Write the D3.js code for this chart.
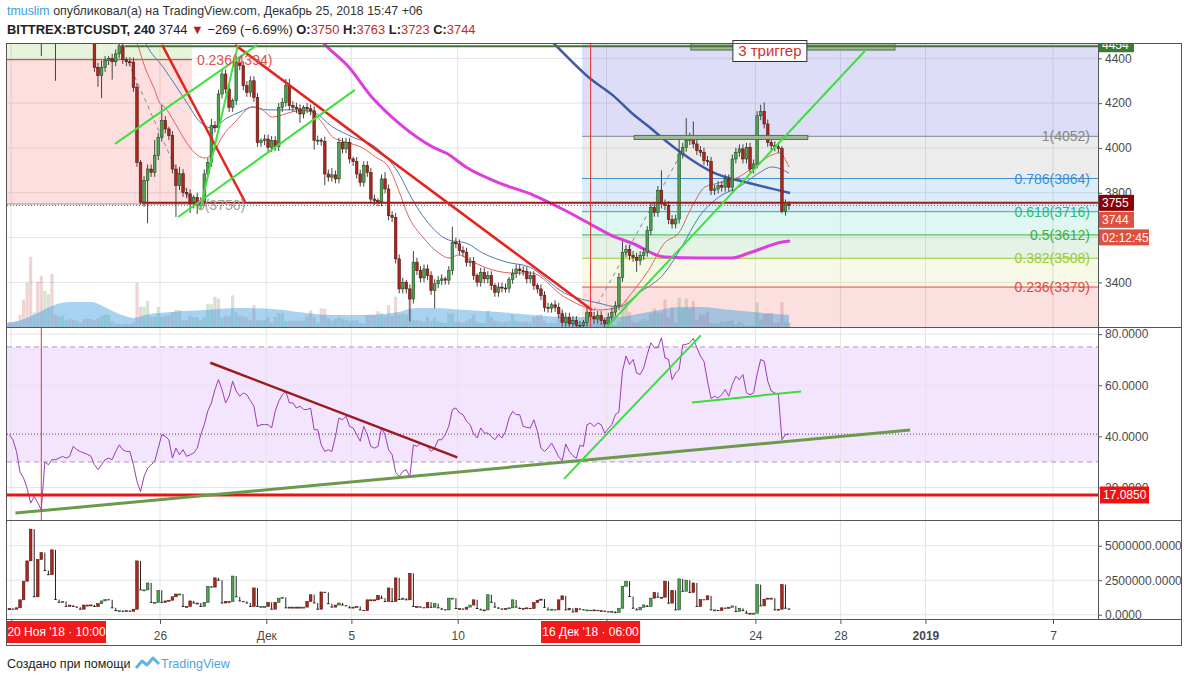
<!DOCTYPE html>
<html><head><meta charset="utf-8">
<script src="https://cdn.jsdelivr.net/npm/d3@7"></script>
<style>body{margin:0;background:#fff}svg{display:block}</style>
</head><body>
<svg id="c" width="1188" height="682"></svg>
<script>
// ---------------- DATA ----------------
// 4h candles, index k from -9 (18 Nov 22:00) to 211 (25 Dec 14:00); k=0 is 20 Nov 2018 10:00 (+06)
const kStart = -9;
const firstOpen = 5600;
const closes = [
5560,5530,5480,5200,4950,4880,4620,4700,4650,4560,
4620,4700,4600,4560,4620,4680,4720,4700,4650,4680,
4620,4600,4560,4520,4360,4323,4360,4390,4400,4385,
4420,4456,4395,4385,4383,4271,3936,3758,3854,3906,
3891,3966,4048,4122,4085,4055,3906,3832,3885,3802,
3795,3750,3780,3745,3760,3884,3936,4100,4090,4241,
4330,4263,4181,4211,4382,4367,4278,4248,4300,4226,
4025,4033,4040,4003,4033,4006,4181,4204,4278,4189,
4182,4175,4152,4181,4175,4166,4033,4035,4030,3884,
3870,3880,3862,4025,3996,4025,3951,3940,3884,3847,
3921,3891,3772,3765,3760,3862,3817,3698,3690,3505,
3371,3401,3371,3326,3490,3453,3420,3460,3430,3364,
3394,3408,3416,3410,3453,3579,3572,3542,3535,3490,
3493,3431,3401,3445,3416,3430,3386,3356,3379,3375,
3374,3414,3440,3460,3452,3450,3416,3430,3386,3371,
3341,3289,3285,3300,3289,3260,3222,3245,3215,3230,
3208,3208,3222,3267,3248,3237,3252,3230,3215,3245,
3267,3296,3422,3533,3548,3520,3512,3497,3520,3535,
3631,3735,3713,3810,3750,3743,3680,3661,3683,3973,
4003,4033,4048,4018,3988,3981,3944,3940,3810,3817,
3832,3825,3862,3825,3951,3981,3996,3951,4003,3906,
3929,4144,4163,4107,4025,4010,4005,3998,3718,3750,
3744];
// wick lengths in $10 units
const wickUp = [
3,2,3,5,4,3,6,4,3,3, 3,4,2,3,3,3,3,2,3,2, 2,1,2,2,2,2,3,2,1,2,
2,2,2,1,2,2,2,1,2,2, 2,7,2,7,2,1,2,2,3,2, 2,2,1,2,2,2,2,3,2,2,
2,2,2,1,3,2,2,2,2,2, 2,1,2,2,2,2,2,2,3,3, 2,2,2,1,2,2,2,2,1,2,
2,3,2,2,2,2,2,1,2,2, 2,2,2,2,1,2,3,2,2,2, 2,2,1,2,5,2,2,2,2,2,
2,2,2,1,2,7,2,2,2,2, 2,2,1,2,2,2,2,1,2,2, 2,1,2,2,2,2,2,2,2,1,
2,2,2,1,2,2,2,2,2,2, 2,2,1,2,2,2,2,2,1,2, 2,2,2,5,2,2,2,2,2,2,
2,2,2,2,9,2,2,2,2,8, 2,10,2,7,2,2,2,2,2,2, 2,2,2,2,2,2,2,2,2,2,
2,2,3,4,2,2,2,2,1,2, 1.3];
const wickDn = [
3,3,4,5,5,4,8,4,3,15, 3,3,4,26,3,3,3,2,3,2, 2,2,2,2,2,5,10,2,2,8,
2,2,2,2,2,2,2,1,2,19, 2,2,2,2,2,2,2,14,2,2, 2,4,2,4,2,2,2,2,2,2,
2,2,2,2,2,2,2,2,2,2, 2,2,2,2,2,2,2,2,2,2, 2,2,4,2,2,2,4,2,2,5,
2,2,2,2,2,2,2,2,2,2, 2,2,2,2,2,2,2,2,2,2, 2,2,2,10,2,2,2,2,2,2,
8,2,2,2,2,2,2,2,2,2, 2,2,2,2,2,2,2,2,2,2, 2,2,2,2,2,2,2,2,2,2,
2,2,2,2,2,2,2,2,2,2, 2,2,2,2,2,2,2,2,2,2, 2,2,2,2,2,2,2,5,2,2,
2,2,2,2,2,2,2,2,2,2, 2,2,2,2,2,2,2,2,2,2, 2,2,2,2,2,2,2,2,2,2,
2,2,2,2,2,2,2,2,1,2, 2.1];
// volume, millions
const volumesM = [
0.45,0.4,0.5,1.08,2.43,3.9,6.2,1.3,4.0,4.5,
3.2,2.9,4.7,1.1,0.9,0.96,0.6,0.7,0.6,0.55,
0.4,0.7,0.7,0.71,0.6,0.8,1.0,1.1,1.08,0.5,
0.3,0.3,0.25,0.3,0.25,0.4,3.9,1.8,1.8,2.3,
0.9,0.9,1.77,0.9,1.0,1.05,1.3,1.5,1.5,0.6,
0.6,1.0,0.85,0.85,0.6,0.9,2.06,2.0,2.67,2.5,
0.85,0.95,0.95,2.8,1.3,1.0,0.95,0.85,0.6,1.94,
0.6,0.6,0.6,0.9,0.4,0.9,1.2,1.25,0.5,0.55,
0.55,0.55,0.55,0.55,0.96,1.45,0.85,0.4,1.65,1.62,
0.8,0.55,0.7,0.85,0.7,0.64,0.5,0.55,0.6,0.35,
0.3,1.08,1.08,1.08,1.4,1.2,0.96,1.94,0.96,2.67,
1.1,1.2,1.08,3.0,0.6,0.6,0.55,0.5,0.9,0.54,
0.8,0.5,0.4,0.35,1.2,1.2,0.45,0.45,0.4,0.55,
0.7,1.08,0.45,0.35,0.35,1.45,0.9,0.55,0.47,0.4,
0.45,0.5,1.08,0.55,0.45,0.47,0.5,0.45,0.88,1.05,
1.13,0.54,0.35,0.4,0.35,1.08,1.37,0.35,0.47,0.2,
0.47,0.4,0.35,0.35,0.3,0.35,0.3,0.3,0.25,0.2,
0.25,0.15,0.47,2.06,2.43,1.32,0.47,0.35,0.54,0.71,
0.6,1.2,1.62,1.27,1.27,2.43,0.84,1.77,0.35,2.6,
1.7,2.5,1.62,2.3,0.6,1.1,1.08,1.37,0.35,0.35,
0.3,0.5,0.47,0.54,0.64,0.23,0.47,0.3,0.11,0.11,
0.11,2.18,0.64,1.13,1.2,1.2,0.35,0.4,2.18,0.47,
0.4];
const rsiValues = [
40.7,38.7,34.1,26,23.7,19.7,13.9,16.5,14,11.3,
30,28.9,30.9,30.9,31.5,32.2,31.5,32.2,36.1,34.8,
34.1,33.5,33,32.2,28.9,27,28.9,30.9,31.5,30.9,
34.1,36.7,34.8,34.1,34.1,28.9,22.4,18.4,24.3,27.6,
28.9,30.2,35.4,40.7,40,38.7,31.5,35.4,32.8,34.8,
32.2,32.8,33.5,35.4,40.7,44.6,50,53.1,58.3,62.2,
58.3,53.1,55.7,61.6,57.7,55.7,57,56.3,54,51.8,
43.9,44.6,44.6,44.6,43.3,49.8,53.7,56.3,57.7,53.1,
53.1,51.1,51.8,50.5,50.5,51.1,42.6,42.6,36.7,34.1,
34.8,34.1,40,47.2,46.5,47.9,43.9,43.3,40.7,38.1,
43.9,40.7,36.1,35.4,36.1,43.3,40.7,34.8,32.8,26,
24.3,26.3,27,24.3,36.7,36.1,37.4,36.5,36.1,34.1,
35.4,38.7,38.7,40.7,44,50.5,51.1,49.2,48.5,45.9,
44.6,41,39.4,43.3,41.3,41.3,40,38.7,40.7,39.4,
42,47.2,49.8,48.5,48.5,43.9,43.5,43.3,46.5,42,
35.4,34.1,35.5,37.4,34.8,32,30.5,37,34.1,32.5,
31.5,36.5,36.1,44.6,45.2,43.9,45.2,44.6,41.3,43,
44.6,48.5,49.5,65.5,71.4,68.1,70.1,64.8,64.2,66.8,
72,76.6,74.7,74.7,78.6,70.7,70.1,62.2,64.8,66.2,
75.8,76,76.6,78.3,74.7,71.4,69.4,61.6,54.8,55.7,
55,56.3,58.3,55.7,60.3,63.5,62.2,64.2,57,56.3,
57,64.2,70.1,69.4,61.6,57.7,57,56.3,38.7,40.7,
40.9];
// moving averages read as [candle index, value]
const maFastRed = [[25,4540],[27.2,4460],[29.2,4362],[32,4259],[33.4,4201],[34.8,4183],[37.7,4112],[40.5,4036],[43.3,3978],[46.2,3955],[49,3991],[51,4049],[54.7,4116],[59.5,4183],[62.3,4170],[65.2,4138],[70.8,4161],[75.4,4170],[79.3,4112],[82.2,4049],[85.8,4027],[90.7,4000],[94.3,3960],[98,3915],[100.8,3813],[103.7,3692],[107.6,3603],[112.2,3531],[115,3509],[117.8,3522],[121.8,3491],[127.5,3455],[133.1,3442],[138.2,3442],[147.6,3335],[157.2,3277],[162.9,3290],[166.6,3353],[171.4,3455],[175.9,3576],[179.9,3621],[183.6,3737],[187.3,3826],[191.2,3844],[196.9,3871],[202.5,3933],[206.2,3969],[208.2,3978],[211,3915]];
const maFastBlue = [[27,4560],[29.7,4460],[34.3,4362],[38.2,4272],[41.1,4201],[44.8,4116],[48.2,4089],[52.4,4134],[56.1,4161],[59.8,4183],[63.7,4170],[70.8,4170],[76.5,4161],[82.2,4094],[87.8,4049],[94.3,4004],[100.8,3888],[104.8,3768],[108.5,3679],[115,3589],[119.8,3576],[124.6,3531],[131.2,3491],[137.7,3469],[147.6,3353],[157.2,3308],[162.9,3290],[168.6,3353],[175.9,3442],[180.7,3558],[185.6,3692],[191.2,3781],[196.9,3826],[202.5,3888],[206.2,3915],[211,3888]];
const maSlowBlue = [[135,4620],[144.8,4464],[154.7,4312],[161.8,4228],[166.6,4156],[171.4,4096],[175.9,4036],[180.7,3978],[190,3888],[199.7,3844],[211.3,3799]];
const ma200 = [[75,4560],[79.6,4469],[86.7,4362],[93.5,4223],[100.8,4112],[110.5,4004],[114.5,3975],[119.8,3915],[129.2,3844],[138.8,3790],[147.6,3723],[154.4,3665],[161.8,3603],[166.6,3576],[175.9,3513],[185.6,3509],[194.9,3509],[199.7,3531],[209.1,3580],[211.3,3585]];
const volMA = [[-9.9,0.35],[-5.7,0.62],[-1.1,1.24],[3.7,1.95],[8.5,2.2],[14.2,2.2],[17.8,1.77],[22.7,1.06],[26.3,0.8],[29.2,1.06],[36.8,1.33],[46.2,1.5],[55.5,1.68],[65.2,1.6],[72.5,1.33],[82.2,1.06],[91.5,1.06],[100.8,1.33],[105.7,1.68],[110.5,1.68],[119.8,1.5],[129.2,1.33],[138.8,1.06],[147.6,0.88],[155.2,0.88],[161.8,0.88],[171.4,1.33],[180.7,1.77],[185.6,1.77],[194.9,1.5],[204.2,1.24],[211,1.06]];
// fibonacci retracements
const fibLevelsRight = [0,0.236,0.382,0.5,0.618,0.786,1,1.618];
const fibRightRange = [3171.5,4052];
const fibRightStartK = 152.6;
const fibLevelsLeft = [0,0.236,0.382];
const fibLeftRange = [3750,6479];
const fibLeftK = [-9.7,42.5];
// drawings [k1, v1, k2, v2]
const redTrendLines = [[34.1,4460,57.5,3759],[54.7,4460,155.4,3277]];
const greenTrendLines = [[20.8,4018,60.9,4460],[38.6,3692,88.5,4259],[44.8,3723,55.5,4460],[159.6,3201,232.4,4433]];
const grayDashedLines = [[24.5,4384,41.9,3768],[154.8,3241,181.1,3991]];
const zoneRects = [[183.3,4437,240.9,4500],[167.3,4038,216.3,4056]];
const level4454 = {k:23.6, price:4454};
const level3755 = {k:28.4, price:3755};
const triggerLabel = {k:205.6, price:4435, text:'3 триггер'};
const verticalPriceK = 155;
const verticalRsiK = 0;
const rsiOliveLine = [-7.3,10,245.2,42.5];
const rsiDarkRedLine = [47.7,68.8,117.4,31.8];
const rsiGreenLines = [[147.5,23.4,186.1,79.5],[183.6,53.3,214.4,57.6]];
const rsiLevel = 17.085;
const rsiBands = [30,75];
// axes
const priceTicks = [3400,3600,3800,4000,4200,4400];
const rsiTicks = [20,40,60,80];
const volTicks = [0,2.5,5];
const timeTicks = [[2018,10,19],[2018,10,26],[2018,11,1],[2018,11,5],[2018,11,10],[2018,11,17],[2018,11,24],[2018,11,28],[2019,0,1],[2019,0,7]];
const monthsRu = ['Янв','Фев','Мар','Апр','Май','Июн','Июл','Авг','Сен','Окт','Ноя','Дек'];
const countdown = '02:12:45';

// ---------------- SETUP ----------------
const svg = d3.select('#c');
const FONT = "'Liberation Sans', Arial, sans-serif";
const L = 7, R = 1098;
const H4 = 4*3600*1000;
const base = Date.UTC(2018,10,20,10,0);
const dateOf = k => new Date(base + k*H4);
const x = d3.scaleUtc().domain([new Date(Date.UTC(2018,10,18,19,17)), new Date(Date.UTC(2019,0,9,2,47))]).range([L,R]);
const xk = k => x(dateOf(k));
const yP = d3.scaleLinear().domain([3201,4464]).range([327,44]);
const yR = d3.scaleLinear().domain([7.3,82.4]).range([520,328]);
const yV = d3.scaleLinear().domain([-0.31,6.79]).range([619,521]);
const yVO = d3.scaleLinear().domain([0,25]).range([327,44]);

const candles = closes.map((c,i)=>{
  const o = i===0 ? firstOpen : closes[i-1];
  return {k:kStart+i, o, c, h:Math.max(o,c)+wickUp[i]*10, l:Math.min(o,c)-wickDn[i]*10,
          v:volumesM[i], pv: i===0 ? volumesM[0]*0.8 : volumesM[i-1], rsi:rsiValues[i]};
});

const defs = svg.append('defs');
function clip(id,y0,y1){defs.append('clipPath').attr('id',id).append('rect').attr('x',L).attr('y',y0).attr('width',R-L).attr('height',y1-y0);}
clip('cp',44,327); clip('cr',328,520); clip('cv',521,619.5);
defs.append('clipPath').attr('id','ctop').append('rect').attr('x',0).attr('y',44).attr('width',1188).attr('height',600);

svg.append('rect').attr('width',1188).attr('height',682).attr('fill','#fff');

// ---------------- HEADER ----------------
const h1 = svg.append('text').attr('x',7).attr('y',15).attr('font-family',FONT).attr('font-size',12.4).attr('fill','#333');
h1.append('tspan').attr('fill','#3c9be0').text('tmuslim');
h1.append('tspan').text(' опубликовал(а) на TradingView.com, Декабрь 25, 2018 15:47 +06');
const last = candles[candles.length-1];
const h2 = svg.append('text').attr('x',7).attr('y',34).attr('font-family',FONT).attr('font-size',12.9).attr('fill','#222');
h2.append('tspan').attr('font-weight','bold').text('BITTREX:BTCUSDT, 240');
h2.append('tspan').text('  ' + last.c + ' ');
h2.append('tspan').attr('fill','#b71c1c').text('▼');
h2.append('tspan').text(' −269 (−6.69%) ');
[['O:',3750],['H:',3763],['L:',3723],['C:',last.c]].forEach(([lab,v])=>{
  h2.append('tspan').attr('font-weight','bold').text(' '+lab);
  h2.append('tspan').attr('fill','#c62828').text(v);
});

// ---------------- PRICE PANE ----------------
const gP = svg.append('g').attr('clip-path','url(#cp)');
const gridC = '#e4e4e4';
const tickDates = timeTicks.map(t=>new Date(Date.UTC(t[0],t[1],t[2])));
function vgrid(g,y0,y1){g.selectAll(null).data(tickDates).enter().append('line').attr('x1',d=>x(d)).attr('x2',d=>x(d)).attr('y1',y0).attr('y2',y1).attr('stroke',gridC);}
vgrid(gP,44,327);
gP.selectAll(null).data(priceTicks).enter().append('line').attr('x1',L).attr('x2',R).attr('y1',d=>yP(d)).attr('y2',d=>yP(d)).attr('stroke',gridC);

// fib fills
const fibFillR = ['#ef5350','#c0ca33','#4caf50','#26c6a0','#3d9be0','#9e9e9e','#6464dc'];
const fibOpR = [0.18,0.13,0.15,0.15,0.18,0.2,0.22];
const fibLineR = ['#808080','#e04848','#9acd32','#3cb043','#2ab87f','#3a8fd8','#888888','#5c5ccc'];
const fv = (r,l)=> r[0] + (r[1]-r[0])*l;
for(let i=0;i<fibLevelsRight.length-1;i++){
  const a = yP(fv(fibRightRange,fibLevelsRight[i])), b = yP(fv(fibRightRange,fibLevelsRight[i+1]));
  gP.append('rect').attr('x',xk(fibRightStartK)).attr('y',b).attr('width',R-xk(fibRightStartK)).attr('height',a-b).attr('fill',fibFillR[i]).attr('opacity',fibOpR[i]);
}
const fibFillL = ['#ef5350','#8bc34a'];
const fibOpL = [0.19,0.2];
for(let i=0;i<fibLevelsLeft.length-1;i++){
  const a = yP(fv(fibLeftRange,fibLevelsLeft[i])), b = yP(fv(fibLeftRange,fibLevelsLeft[i+1]));
  gP.append('rect').attr('x',xk(fibLeftK[0])).attr('y',b).attr('width',xk(fibLeftK[1])-xk(fibLeftK[0])).attr('height',a-b).attr('fill',fibFillL[i]).attr('opacity',fibOpL[i]);
}

// volume overlay
gP.selectAll(null).data(candles).enter().append('rect')
  .attr('x',d=>xk(d.k)-1.6).attr('width',3.2).attr('y',d=>yVO(d.v)).attr('height',d=>yVO(0)-yVO(d.v))
  .attr('fill',d=>d.c>=d.o?'#6aa86a':'#c97070').attr('opacity',0.3);
gP.append('path').datum(volMA).attr('d',d3.area().x(d=>xk(d[0])).y0(yVO(0)).y1(d=>yVO(d[1])).curve(d3.curveMonotoneX))
  .attr('fill','#3b9de0').attr('opacity',0.45);

// fib lines
fibLevelsRight.forEach((l,i)=>{
  const y = yP(fv(fibRightRange,l));
  gP.append('line').attr('x1',xk(fibRightStartK)).attr('x2',R).attr('y1',y).attr('y2',y).attr('stroke',fibLineR[i]).attr('stroke-width',1);
});
gP.append('line').attr('x1',L).attr('x2',xk(fibLeftK[1])).attr('y1',yP(fv(fibLeftRange,0.236))).attr('y2',yP(fv(fibLeftRange,0.236))).attr('stroke','#cc3333');
gP.append('line').attr('x1',L).attr('x2',xk(fibLeftK[1])).attr('y1',yP(fibLeftRange[0])).attr('y2',yP(fibLeftRange[0])).attr('stroke','#999');

// moving averages
const maLine = d3.line().x(d=>xk(d[0])).y(d=>yP(d[1])).curve(d3.curveMonotoneX);
gP.append('path').datum(ma200).attr('d',maLine).attr('fill','none').attr('stroke','#dd3ddd').attr('stroke-width',3);
gP.append('path').datum(maSlowBlue).attr('d',maLine).attr('fill','none').attr('stroke','#3c5aa6').attr('stroke-width',2.5);
gP.append('path').datum(maFastBlue).attr('d',maLine).attr('fill','none').attr('stroke','#4f79b0').attr('stroke-width',1);
gP.append('path').datum(maFastRed).attr('d',maLine).attr('fill','none').attr('stroke','#e06262').attr('stroke-width',1);

// gray dashed projection lines
grayDashedLines.forEach(s=>gP.append('line').attr('x1',xk(s[0])).attr('y1',yP(s[1])).attr('x2',xk(s[2])).attr('y2',yP(s[3])).attr('stroke','#8a8a8a').attr('stroke-dasharray','4,4'));

// candles
const cg = gP.append('g');
cg.selectAll(null).data(candles).enter().append('line')
  .attr('x1',d=>xk(d.k)).attr('x2',d=>xk(d.k)).attr('y1',d=>yP(d.h)).attr('y2',d=>yP(d.l)).attr('stroke','#444').attr('stroke-width',1);
cg.selectAll(null).data(candles).enter().append('rect')
  .attr('x',d=>xk(d.k)-1.3).attr('width',2.6)
  .attr('y',d=>yP(Math.max(d.o,d.c))).attr('height',d=>Math.max(1,yP(Math.min(d.o,d.c))-yP(Math.max(d.o,d.c))))
  .attr('fill',d=>d.c>=d.o?'#4da352':'#a8281f').attr('stroke',d=>d.c>=d.o?'#1f4d22':'#5a140f').attr('stroke-width',0.6);

// zone rects and levels
zoneRects.forEach(r=>gP.append('rect').attr('x',xk(r[0])).attr('y',yP(r[3])).attr('width',xk(r[2])-xk(r[0])).attr('height',yP(r[1])-yP(r[3]))
  .attr('fill','#9dbb93').attr('stroke','#55704e').attr('stroke-width',1));
gP.append('line').attr('x1',xk(level4454.k)).attr('x2',R).attr('y1',yP(level4454.price)).attr('y2',yP(level4454.price)).attr('stroke','#46703c').attr('stroke-width',2);
gP.append('line').attr('x1',L).attr('x2',R).attr('y1',yP(last.c)).attr('y2',yP(last.c)).attr('stroke','#c0392b').attr('stroke-dasharray','1,2');
gP.append('line').attr('x1',xk(level3755.k)).attr('x2',R).attr('y1',yP(level3755.price)).attr('y2',yP(level3755.price)).attr('stroke','#9b1c1c').attr('stroke-width',2);

// trend lines
redTrendLines.forEach(s=>gP.append('line').attr('x1',xk(s[0])).attr('y1',yP(s[1])).attr('x2',xk(s[2])).attr('y2',yP(s[3])).attr('stroke','#e6241e').attr('stroke-width',2.5));
greenTrendLines.forEach(s=>gP.append('line').attr('x1',xk(s[0])).attr('y1',yP(s[1])).attr('x2',xk(s[2])).attr('y2',yP(s[3])).attr('stroke','#3ee03e').attr('stroke-width',2));
gP.append('line').attr('x1',xk(verticalPriceK)).attr('x2',xk(verticalPriceK)).attr('y1',44).attr('y2',327).attr('stroke','#e53935').attr('stroke-width',1);

// fib labels
fibLevelsRight.forEach((l,i)=>{
  const v = fv(fibRightRange,l);
  if (yP(v) < 50 || yP(v) > 325) return;
  gP.append('text').attr('x',R-8).attr('y',yP(v)+5).attr('text-anchor','end').attr('font-family',FONT).attr('font-size',14)
    .attr('fill',fibLineR[i]).text(l+'('+Math.round(v)+')');
});
svg.append('text').attr('x',xk(fibLeftK[1])+5).attr('y',yP(fv(fibLeftRange,0.236))+5).attr('font-family',FONT).attr('font-size',14).attr('fill','#e05050')
  .text('0.236('+Math.round(fv(fibLeftRange,0.236))+')');
svg.append('text').attr('x',xk(fibLeftK[1])+5).attr('y',yP(fibLeftRange[0])+6).attr('font-family',FONT).attr('font-size',14).attr('fill','#a0a0a0')
  .text('0('+fibLeftRange[0]+')');

// trigger label
const tx = xk(triggerLabel.k), ty = yP(triggerLabel.price);
svg.append('rect').attr('x',tx-37).attr('y',ty-10).attr('width',74).attr('height',21).attr('fill','#fff').attr('stroke','#333');
svg.append('text').attr('x',tx).attr('y',ty+5.5).attr('text-anchor','middle').attr('font-family',FONT).attr('font-size',15).attr('fill','#d32f2f').text(triggerLabel.text);

// ---------------- RSI PANE ----------------
const gR = svg.append('g').attr('clip-path','url(#cr)');
gR.append('rect').attr('x',L).attr('width',R-L).attr('y',yR(rsiBands[1])).attr('height',yR(rsiBands[0])-yR(rsiBands[1])).attr('fill','#c77dff').attr('opacity',0.2);
vgrid(gR,328,520);
gR.selectAll(null).data(rsiTicks).enter().append('line').attr('x1',L).attr('x2',R).attr('y1',d=>yR(d)).attr('y2',d=>yR(d)).attr('stroke',gridC);
rsiBands.forEach(b=>gR.append('line').attr('x1',L).attr('x2',R).attr('y1',yR(b)).attr('y2',yR(b)).attr('stroke','#ab9bb4').attr('stroke-dasharray','5,4'));
gR.append('path').datum(candles).attr('d',d3.line().x(d=>xk(d.k)).y(d=>yR(d.rsi))).attr('fill','none').attr('stroke','#9b3cb7').attr('stroke-width',1);
gR.append('line').attr('x1',L).attr('x2',R).attr('y1',yR(last.rsi)).attr('y2',yR(last.rsi)).attr('stroke','#7b1fa2').attr('stroke-dasharray','1,2');
gR.append('line').attr('x1',L).attr('x2',R).attr('y1',yR(rsiLevel)).attr('y2',yR(rsiLevel)).attr('stroke','#e61414').attr('stroke-width',3);
[rsiOliveLine].forEach(s=>gR.append('line').attr('x1',xk(s[0])).attr('y1',yR(s[1])).attr('x2',xk(s[2])).attr('y2',yR(s[3])).attr('stroke','#6c9a4a').attr('stroke-width',3));
[rsiDarkRedLine].forEach(s=>gR.append('line').attr('x1',xk(s[0])).attr('y1',yR(s[1])).attr('x2',xk(s[2])).attr('y2',yR(s[3])).attr('stroke','#9b1b1b').attr('stroke-width',2.5));
rsiGreenLines.forEach(s=>gR.append('line').attr('x1',xk(s[0])).attr('y1',yR(s[1])).attr('x2',xk(s[2])).attr('y2',yR(s[3])).attr('stroke','#3ddc3d').attr('stroke-width',2));
gR.append('line').attr('x1',xk(verticalRsiK)).attr('x2',xk(verticalRsiK)).attr('y1',328).attr('y2',520).attr('stroke','#e53935').attr('stroke-width',1);

// ---------------- VOLUME PANE ----------------
const gV = svg.append('g').attr('clip-path','url(#cv)');
vgrid(gV,521,619);
gV.selectAll(null).data(volTicks).enter().append('line').attr('x1',L).attr('x2',R).attr('y1',d=>yV(d)).attr('y2',d=>yV(d)).attr('stroke',gridC);
candles.forEach(d=>{
  const cx = xk(d.k);
  if (d.v >= d.pv) {
    gV.append('rect').attr('x',cx-1.3).attr('width',2.6).attr('y',yV(d.v)).attr('height',Math.max(1,yV(d.pv)-yV(d.v)))
      .attr('fill',d.c>=d.o?'#4da352':'#a8281f').attr('stroke',d.c>=d.o?'#1f4d22':'#5a140f').attr('stroke-width',0.6);
  } else {
    gV.append('line').attr('x1',cx).attr('x2',cx).attr('y1',yV(d.pv)).attr('y2',yV(d.v)).attr('stroke','#222').attr('stroke-width',1);
    gV.append('line').attr('x1',cx-1.3).attr('x2',cx+1.3).attr('y1',yV(d.v)).attr('y2',yV(d.v)).attr('stroke','#222').attr('stroke-width',1);
  }
});

// ---------------- AXES ----------------
function styleAxis(g){g.select('.domain').remove(); g.selectAll('line').attr('stroke','#555'); g.selectAll('text').attr('font-family',FONT).attr('font-size',12).attr('fill','#4a4a4a');}
const yA = yP(level3755.price), yB = Math.max(yP(last.c), yA+17), yC = yB+17.5;
const coveredY = [yA,yB,yC];
const pa = svg.append('g').attr('transform',`translate(${R},0)`).call(d3.axisRight(yP).tickValues(priceTicks).tickSize(4).tickFormat(d3.format('d'))).call(styleAxis);
pa.selectAll('text').filter(d=>coveredY.some(c=>Math.abs(yP(d)-c)<7)).remove();
svg.append('g').attr('transform',`translate(${R},0)`).call(d3.axisRight(yR).tickValues(rsiTicks).tickSize(4).tickFormat(d=>d.toFixed(4))).call(styleAxis);
svg.append('g').attr('transform',`translate(${R},0)`).call(d3.axisRight(yV).tickValues(volTicks).tickSize(4).tickFormat(d=>(d*1e6).toFixed(4))).call(styleAxis);
const tfmt = d => d.getUTCDate()===1 ? (d.getUTCMonth()===0 ? String(d.getUTCFullYear()) : monthsRu[d.getUTCMonth()]) : String(d.getUTCDate());
const ta = svg.append('g').attr('transform','translate(0,620)').call(d3.axisBottom(x).tickValues(tickDates).tickSize(4).tickFormat(tfmt)).call(styleAxis);
ta.selectAll('text').attr('dy','1.05em').attr('font-weight',d=>d.getUTCMonth()===0&&d.getUTCDate()===1?'bold':'normal');
const crossX = [verticalRsiK, verticalPriceK].map(k=>Math.max(L+49.5, xk(k)));
ta.selectAll('text').filter(d=>crossX.some(c=>Math.abs(x(d)-c)<62)).remove();

// price axis labels
function axisBox(yc,w,fill,text,g){ (g||svg).append('rect').attr('x',R+1).attr('y',yc-8).attr('width',w).attr('height',16).attr('fill',fill);
  (g||svg).append('text').attr('x',R+4).attr('y',yc+4.5).attr('font-family',FONT).attr('font-size',12).attr('fill','#fff').text(text);}
const topG = svg.append('g').attr('clip-path','url(#ctop)');
axisBox(yP(level4454.price)-2,35,'#3a7d2c',String(level4454.price),topG);
axisBox(yA,35,'#8b0000',String(level3755.price));
axisBox(yB,35,'#e0503e',String(last.c));
axisBox(yC,50,'#e0503e',countdown);
svg.append('rect').attr('x',R+2).attr('y',yR(rsiLevel)-8.5).attr('width',49).attr('height',17).attr('fill','#f01212');
svg.append('text').attr('x',R+5).attr('y',yR(rsiLevel)+4.5).attr('font-family',FONT).attr('font-size',12).attr('fill','#fff').text(rsiLevel.toFixed(4));

// crosshair time labels
const fmtCross = d => `${d.getUTCDate()} ${monthsRu[d.getUTCMonth()]} '${String(d.getUTCFullYear()).slice(2)} · ${String(d.getUTCHours()).padStart(2,'0')}:${String(d.getUTCMinutes()).padStart(2,'0')}`;
[verticalRsiK, verticalPriceK].forEach((k,i)=>{
  const cx = crossX[i];
  svg.append('rect').attr('x',cx-49.5).attr('y',621).attr('width',99).attr('height',22).attr('fill','#f01a1a');
  svg.append('text').attr('x',cx).attr('y',636).attr('text-anchor','middle').attr('font-family',FONT).attr('font-size',12).attr('fill','#fff').text(fmtCross(dateOf(k)));
});

// ---------------- FRAME ----------------
const fr = svg.append('g').attr('stroke','#555').attr('fill','none');
fr.append('rect').attr('x',6.5).attr('y',43.5).attr('width',1175).attr('height',602);
fr.append('line').attr('x1',R+0.5).attr('x2',R+0.5).attr('y1',43.5).attr('y2',620);
[327.5,520.5,619.5].forEach(y=>fr.append('line').attr('x1',6.5).attr('x2',1181.5).attr('y1',y).attr('y2',y));

// ---------------- FOOTER ----------------
svg.append('text').attr('x',7).attr('y',668).attr('font-family',FONT).attr('font-size',12.5).attr('fill','#222').text('Создано при помощи');
svg.append('path').attr('d','M136,668 L142,661 L147,665 L153,658 L159,664').attr('fill','none').attr('stroke','#5db4e8').attr('stroke-width',3).attr('stroke-linejoin','round');
svg.append('text').attr('x',161).attr('y',668).attr('font-family',FONT).attr('font-size',12.5).attr('fill','#4aa3dc').text('TradingView');
</script>
</body></html>
